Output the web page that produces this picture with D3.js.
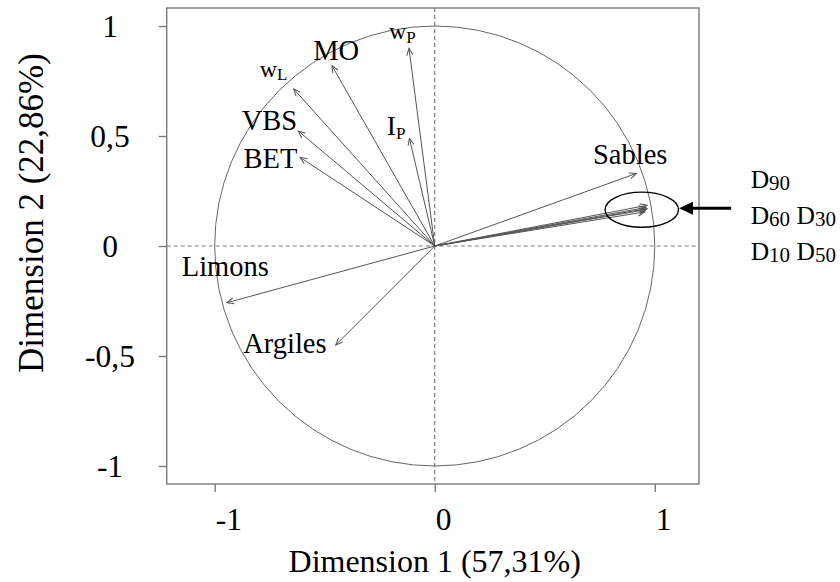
<!DOCTYPE html>
<html><head><meta charset="utf-8">
<script src="https://cdn.jsdelivr.net/npm/d3@7"></script>
<style>body{margin:0;background:#fff}svg{display:block}</style>
</head><body><svg id="chart" width="840" height="582"></svg>
<script>
// ---------- data ----------
const variables = ["wP","MO","wL","VBS","BET","IP","Sables","D90","D60","D30","D10","D50","Limons","Argiles"];
const dim1 = [-0.117,-0.467,-0.641,-0.620,-0.612,-0.115,0.917,0.965,0.960,0.965,0.955,0.960,-0.945,-0.450];
const dim2 = [0.899,0.820,0.714,0.523,0.403,0.489,0.330,0.185,0.175,0.170,0.155,0.165,-0.258,-0.450];
const labelMain = {wP:"w",MO:"MO",wL:"w",VBS:"VBS",BET:"BET",IP:"I",Sables:"Sables",Limons:"Limons",Argiles:"Argiles"};
const labelSub  = {wP:"P",wL:"L",IP:"P"};
const groupLabelLines = [[["D","90"]],[["D","60"],["D","30"]],[["D","10"],["D","50"]]];
const xTicks = [-1,0,1];
const xTickLabels = ["-1","0","1"];
const yTicks = [1,0.5,0,-0.5,-1];
const yTickLabels = ["1","0,5","0","-0,5","-1"];
const xTitle = "Dimension 1 (57,31%)";
const yTitle = "Dimension 2 (22,86%)";

// ---------- layout ----------
const W = 840, H = 582;
const m = {left:166.7, right:141, top:8, bottom:98};
const FONT = "'Liberation Serif','Times New Roman',serif";
const GRAY = "#7a7a7a";
const svg = d3.select("#chart");

const x = d3.scaleLinear().domain([-1.218, 1.201]).range([m.left, W - m.right]);
const y = d3.scaleLinear().domain([-1.082, 1.082]).range([H - m.bottom, m.top]);

// label offsets (px) relative to arrow tips: [dx of text start, dy of baseline, main size, sub size]
const labelLayout = {
  wP:[-20,-9,24,17], MO:[-18.7,-6,28.5,0], wL:[-34,-12,24,17], VBS:[-56.5,-1,28.5,0],
  BET:[-56.5,11,28.5,0], IP:[-22.6,-3.3,27.5,17], Sables:[-43.5,-9.5,28.5,0],
  Limons:[-45,-26.7,28.5,0], Argiles:[-92.5,7.7,28.5,0]
};

// marker
const defs = svg.append("defs");
defs.append("marker").attr("id","head").attr("markerUnits","userSpaceOnUse")
  .attr("viewBox","-8 -4 9 8").attr("refX",0).attr("refY",0)
  .attr("markerWidth",9).attr("markerHeight",8).attr("orient","auto")
  .append("path").attr("d","M-7,-3 L0,0 L-7,3").attr("fill","none")
  .attr("stroke","#555").attr("stroke-width",1);

// frame
svg.append("rect").attr("x",x.range()[0]).attr("y",y.range()[1])
  .attr("width",x.range()[1]-x.range()[0]).attr("height",y.range()[0]-y.range()[1])
  .attr("fill","none").attr("stroke",GRAY).attr("stroke-width",1.4);

// ticks via axes
const yAxis = svg.append("g").attr("transform",`translate(${x.range()[0]},0)`)
  .call(d3.axisLeft(y).tickValues(yTicks).tickSize(8).tickFormat(""));
const xAxis = svg.append("g").attr("transform",`translate(0,${y.range()[0]})`)
  .call(d3.axisBottom(x).tickValues(xTicks).tickSize(8).tickFormat(""));
[yAxis,xAxis].forEach(g=>{g.select(".domain").remove();
  g.selectAll(".tick line").attr("stroke",GRAY).attr("stroke-width",1.4);});

// tick labels
svg.append("g").selectAll("text").data(yTicks).join("text")
  .attr("x",110).attr("y",d=>y(d)+11).attr("text-anchor","middle")
  .attr("font-family",FONT).attr("font-size",31.5).text((d,i)=>yTickLabels[i]);
svg.append("g").selectAll("text").data(xTicks).join("text")
  .attr("x",d=>x(d)+1).attr("y",530).attr("text-anchor","start")
  .attr("font-family",FONT).attr("font-size",31.5).text((d,i)=>xTickLabels[i]);

// axis titles
svg.append("text").attr("x",x(0)).attr("y",572).attr("text-anchor","middle")
  .attr("font-family",FONT).attr("font-size",32).text(xTitle);
svg.append("text").attr("transform",`translate(43,213) rotate(-90)`).attr("text-anchor","middle")
  .attr("font-family",FONT).attr("font-size",35).text(yTitle);

// dashed axes lines
svg.append("line").attr("x1",x.range()[0]).attr("x2",x.range()[1]).attr("y1",y(0)).attr("y2",y(0))
  .attr("stroke",GRAY).attr("stroke-width",1.2).attr("stroke-dasharray","4,3");
svg.append("line").attr("x1",x(0)).attr("x2",x(0)).attr("y1",y.range()[1]).attr("y2",y.range()[0])
  .attr("stroke",GRAY).attr("stroke-width",1.2).attr("stroke-dasharray","4,3");

// correlation circle
svg.append("ellipse").attr("cx",x(0)).attr("cy",y(0))
  .attr("rx",x(1)-x(0)).attr("ry",y(0)-y(1))
  .attr("fill","none").attr("stroke","#666").attr("stroke-width",1);

// arrows
const pts = variables.map((v,i)=>({v, a:dim1[i], b:dim2[i]}));
svg.append("g").selectAll("line").data(pts).join("line")
  .attr("x1",x(0)).attr("y1",y(0)).attr("x2",d=>x(d.a)).attr("y2",d=>y(d.b))
  .attr("stroke","#555").attr("stroke-width",1).attr("marker-end","url(#head)");

// variable labels
pts.filter(d=>labelLayout[d.v]).forEach(d=>{
  const L = labelLayout[d.v];
  const t = svg.append("text").attr("x",x(d.a)+L[0]).attr("y",y(d.b)+L[1])
    .attr("font-family",FONT).attr("fill","#000");
  t.append("tspan").attr("font-size",L[2]).text(labelMain[d.v]);
  if (labelSub[d.v]) t.append("tspan").attr("font-size",L[3]).attr("dy",3.5).text(labelSub[d.v]);
});

// grouped D annotation: ellipse + arrow + label lines
const dIdx = variables.map((v,i)=>v[0]==="D"?i:-1).filter(i=>i>=0);
const gcx = d3.mean(dIdx,i=>dim1[i]) - 0.02, gcy = d3.mean(dIdx,i=>dim2[i]) - 0.005;
svg.append("ellipse").attr("cx",x(gcx)).attr("cy",y(gcy)).attr("rx",36.7).attr("ry",17.6)
  .attr("fill","none").attr("stroke","#000").attr("stroke-width",1.4);
svg.append("line").attr("x1",x(gcx)+89.4).attr("x2",x(gcx)+37.2+14).attr("y1",y(gcy)-1.5).attr("y2",y(gcy)-1.5)
  .attr("stroke","#000").attr("stroke-width",3);
svg.append("path")
  .attr("d",`M${x(gcx)+37.2},${y(gcy)-1.5} l14,-6.5 l0,13 Z`).attr("fill","#000");
groupLabelLines.forEach((line,li)=>{
  const t = svg.append("text").attr("x",750.7).attr("y",188.3+li*36)
    .attr("font-family",FONT).attr("fill","#000");
  line.forEach((p,pi)=>{
    t.append("tspan").attr("font-size",25.5).attr("dy",pi===0?0:-1.5).text((pi>0?" ":"")+p[0]);
    t.append("tspan").attr("font-size",21).attr("dy",1.5).text(p[1]);
  });
});
</script></body></html>
